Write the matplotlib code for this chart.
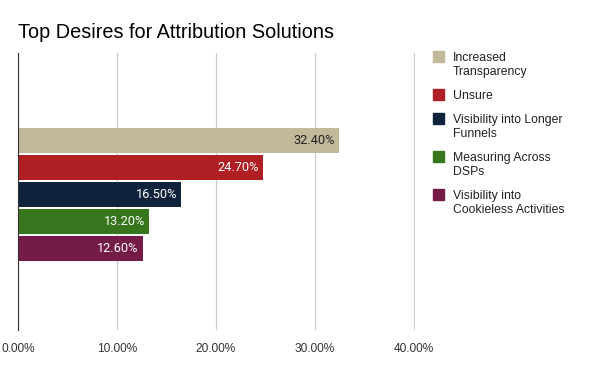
import matplotlib.pyplot as plt
from matplotlib.patches import Rectangle

# series (one category, five series)
labels = ["Increased\nTransparency", "Unsure", "Visibility into Longer\nFunnels",
          "Measuring Across\nDSPs", "Visibility into\nCookieless Activities"]
values = [0.324, 0.247, 0.165, 0.132, 0.126]
colors = ["#c2b99b", "#b01f24", "#0f233d", "#38761d", "#741b47"]
label_colors = ["#222222", "white", "white", "white", "white"]
xticks = [0.0, 0.1, 0.2, 0.3, 0.4]

fig = plt.figure(figsize=(6, 3.71), dpi=100)
ax = fig.add_axes([0.03, 0.1105, 0.6617, 0.7465])

pos = list(range(len(values)))
ax.barh(pos, values, height=0.93, color=colors, zorder=3)
for p, v, c in zip(pos, values, label_colors):
    ax.text(v - 0.004, p, "%.2f%%" % (v * 100), ha="right", va="center",
            color=c, fontsize=9.2, family="Roboto", zorder=4)

ax.set_xlim(0, 0.401)
ax.set_ylim(7.02, -3.24)
ax.set_xticks(xticks)
ax.set_xticklabels(["%.2f%%" % (t * 100) for t in xticks],
                   fontsize=8.6, family="Liberation Sans", color="#333333")
ax.set_yticks([])
ax.tick_params(axis="x", length=0, pad=9)
ax.grid(True, axis="x", color="#cccccc", linewidth=0.9, zorder=0)
for s in ["top", "right", "bottom"]:
    ax.spines[s].set_visible(False)
ax.spines["left"].set_color("#333333")
ax.spines["left"].set_zorder(5)

fig.text(18 / 600, 1 - 38 / 371, "Top Desires for Attribution Solutions",
         fontsize=14.3, family="Liberation Sans", color="black", va="baseline")

# legend drawn by hand so the swatch sits on the first line
y = 56
for lab, col in zip(labels, colors):
    fig.patches.append(Rectangle((433 / 600, 1 - (y + 6) / 371), 11 / 600, 11 / 371,
                                 transform=fig.transFigure, color=col))
    fig.text(453 / 600, 1 - (y - 4) / 371, lab, fontsize=8.8, family="Liberation Sans",
             color="#222222", va="top", linespacing=1.2)
    y += 24 + 14 * lab.count("\n")

fig.savefig("out.png")
